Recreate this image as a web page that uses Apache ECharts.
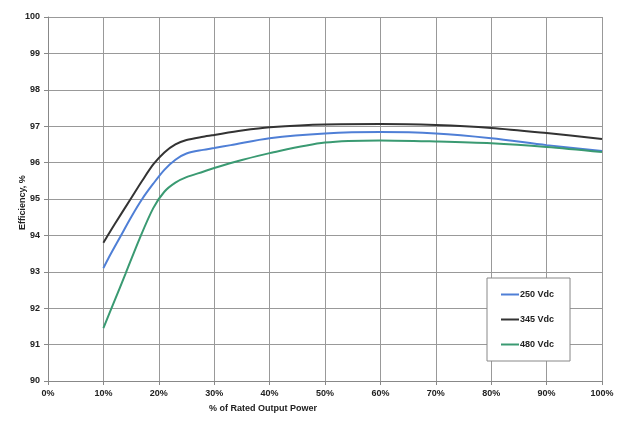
<!DOCTYPE html>
<html><head><meta charset="utf-8">
<script src="https://cdn.jsdelivr.net/npm/echarts@6/dist/echarts.min.js"></script>
<style>html,body{margin:0;padding:0;background:#fff}#c{width:617px;height:426px}</style>
</head><body><div id="c"></div>
<script>
const seriesNames = ['250 Vdc', '345 Vdc', '480 Vdc'];
const x250 = [10, 11, 13, 15, 17, 19, 21, 23, 25, 28, 30, 33, 40, 50, 60, 70, 80, 90, 100];
const y250 = [93.1, 93.4, 93.95, 94.5, 95.0, 95.42, 95.8, 96.08, 96.25, 96.35, 96.4, 96.48, 96.67, 96.8, 96.84, 96.8, 96.67, 96.48, 96.32];
const x345 = [10, 12, 15, 17, 19, 21, 23, 25, 28, 30, 35, 40, 50, 60, 70, 80, 90, 100];
const y345 = [93.8, 94.3, 95.02, 95.5, 95.95, 96.28, 96.5, 96.62, 96.71, 96.76, 96.88, 96.97, 97.05, 97.06, 97.03, 96.95, 96.81, 96.65];
const x480 = [10, 12, 14, 16.5, 19, 21, 23, 25, 28, 30, 35, 40, 50, 60, 70, 80, 90, 100];
const y480 = [91.45, 92.2, 92.95, 93.9, 94.75, 95.2, 95.45, 95.6, 95.75, 95.85, 96.07, 96.26, 96.55, 96.61, 96.58, 96.53, 96.43, 96.29];
const xTicks = [0, 10, 20, 30, 40, 50, 60, 70, 80, 90, 100];
const yTicks = [90, 91, 92, 93, 94, 95, 96, 97, 98, 99, 100];

const zip = (xs, ys) => xs.map((x, i) => [x, ys[i]]);
const colors = ['#4f7fd6', '#333333', '#3a9a72'];
const data = [zip(x250, y250), zip(x345, y345), zip(x480, y480)];

const chart = echarts.init(document.getElementById('c'));
chart.setOption({
  animation: false,
  backgroundColor: '#fff',
  grid: { left: 48, right: 15, top: 17, bottom: 45 },
  xAxis: {
    type: 'value', min: xTicks[0], max: xTicks[xTicks.length - 1], interval: 10,
    axisLine: { show: true, lineStyle: { color: '#888', width: 1 } },
    axisTick: { show: true, length: 4, lineStyle: { color: '#888' } },
    splitLine: { show: true, lineStyle: { color: '#999', width: 1 } },
    axisLabel: { formatter: v => v + '%', color: '#222', fontSize: 9, fontWeight: 'bold', fontFamily: 'Liberation Sans', margin: 8 }
  },
  yAxis: {
    type: 'value', min: yTicks[0], max: yTicks[yTicks.length - 1], interval: 1,
    axisLine: { show: true, lineStyle: { color: '#888', width: 1 } },
    axisTick: { show: true, length: 4, lineStyle: { color: '#888' } },
    splitLine: { show: true, lineStyle: { color: '#999', width: 1 } },
    axisLabel: { color: '#222', fontSize: 9, fontWeight: 'bold', fontFamily: 'Liberation Sans', margin: 8 }
  },
  legend: {
    orient: 'vertical', left: 487, top: 278, width: 83, height: 80,
    padding: [12, 16, 12, 14], itemGap: 16, itemWidth: 18, itemHeight: 2,
    backgroundColor: '#fff', borderColor: '#888', borderWidth: 1,
    icon: 'rect',
    textStyle: { color: '#222', fontSize: 9, fontWeight: 'bold', fontFamily: 'Liberation Sans', padding: [0, 0, 0, -4] },
    data: seriesNames
  },
  graphic: [
    { type: 'text', left: 209, top: 404, style: { text: '% of Rated Output Power', fill: '#222', font: 'bold 9px Liberation Sans' } },
    { type: 'text', x: 18, y: 230, rotation: Math.PI / 2, style: { text: 'Efficiency, %', fill: '#222', font: 'bold 9px Liberation Sans' } }
  ],
  series: seriesNames.map((n, i) => ({
    name: n, type: 'line', data: data[i], smooth: 0.3, symbol: 'none',
    lineStyle: { color: colors[i], width: 2 }, itemStyle: { color: colors[i] }
  }))
});
</script></body></html>
